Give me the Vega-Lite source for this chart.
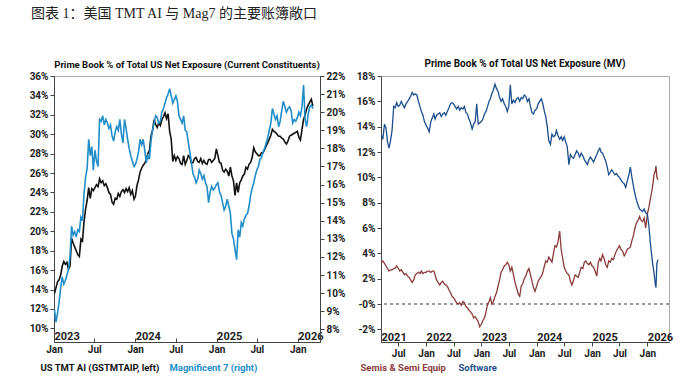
{
"$schema": "https://vega.github.io/schema/vega-lite/v6.json",
"padding": {"left": 28, "top": 6, "right": 5, "bottom": 2},
"title": {"text": "图表 1：美国 TMT AI 与 Mag7 的主要账簿敞口", "anchor": "start", "font": "Liberation Serif, Noto Sans CJK SC", "fontSize": 14, "fontWeight": "normal", "color": "#222", "offset": 38, "dx": -23},
"config": {
  "view": {"stroke": "#aaa", "strokeWidth": 1},
  "axis": {"labelFont": "Liberation Sans Narrow, Roboto", "labelFontWeight": "bold", "labelFontSize": 10, "labelColor": "#222", "domainColor": "#444", "tickColor": "#444", "grid": false, "title": null, "tickSize": 4, "labelOverlap": false, "labelFlush": false},
  "title": {"font": "Liberation Sans Narrow, Roboto", "fontSize": 10, "fontWeight": "bold", "color": "#111", "offset": 2, "frame": "group"}
},
"datasets": {
"L": [
{"d":"2023-01-03","a":13.6,"m":9.1},{"d":"2023-01-10","a":14.2,"m":8.4},{"d":"2023-01-17","a":14.8,"m":8.9},{"d":"2023-01-24","a":15.0,"m":9.5},{"d":"2023-01-31","a":15.5,"m":10.3},
{"d":"2023-02-07","a":16.4,"m":10.9},{"d":"2023-02-14","a":16.9,"m":10.5},{"d":"2023-02-21","a":16.6,"m":10.7},{"d":"2023-02-28","a":16.8,"m":11.0},
{"d":"2023-03-07","a":16.1,"m":11.3},{"d":"2023-03-14","a":16.4,"m":12.0},{"d":"2023-03-21","a":19.3,"m":13.7},{"d":"2023-03-28","a":18.8,"m":13.2},
{"d":"2023-04-04","a":18.4,"m":13.4},{"d":"2023-04-11","a":18.0,"m":13.1},{"d":"2023-04-18","a":17.6,"m":13.5},{"d":"2023-04-25","a":17.4,"m":13.4},
{"d":"2023-05-02","a":19.2,"m":14.2},{"d":"2023-05-09","a":19.0,"m":14.0},{"d":"2023-05-16","a":21.0,"m":15.5},{"d":"2023-05-23","a":22.3,"m":16.4},{"d":"2023-05-30","a":23.2,"m":16.9},
{"d":"2023-06-06","a":24.5,"m":18.5},{"d":"2023-06-13","a":23.4,"m":17.6},{"d":"2023-06-20","a":24.4,"m":18.1},{"d":"2023-06-27","a":24.2,"m":16.8},
{"d":"2023-07-04","a":24.5,"m":17.9},{"d":"2023-07-11","a":24.8,"m":17.3},{"d":"2023-07-18","a":24.6,"m":17.0},{"d":"2023-07-25","a":25.4,"m":19.6},
{"d":"2023-08-01","a":25.0,"m":19.5},{"d":"2023-08-08","a":25.2,"m":19.8},{"d":"2023-08-15","a":24.7,"m":19.3},{"d":"2023-08-22","a":24.9,"m":19.6},{"d":"2023-08-29","a":24.5,"m":19.4},
{"d":"2023-09-05","a":24.0,"m":19.1},{"d":"2023-09-12","a":23.8,"m":19.3},{"d":"2023-09-19","a":23.0,"m":18.7},{"d":"2023-09-26","a":22.8,"m":18.4},
{"d":"2023-10-03","a":23.4,"m":18.9},{"d":"2023-10-10","a":23.3,"m":19.2},{"d":"2023-10-17","a":23.9,"m":19.0},{"d":"2023-10-24","a":23.6,"m":19.6},{"d":"2023-10-31","a":24.1,"m":18.8},
{"d":"2023-11-07","a":24.3,"m":18.3},{"d":"2023-11-14","a":24.0,"m":19.6},{"d":"2023-11-21","a":24.4,"m":19.1},{"d":"2023-11-28","a":24.1,"m":18.5},
{"d":"2023-12-05","a":24.5,"m":18.0},{"d":"2023-12-12","a":23.8,"m":17.6},{"d":"2023-12-19","a":24.2,"m":17.3},{"d":"2023-12-27","a":23.3,"m":17.0},
{"d":"2024-01-02","a":23.6,"m":17.1},{"d":"2024-01-09","a":24.7,"m":17.4},{"d":"2024-01-16","a":25.3,"m":17.8},{"d":"2024-01-23","a":26.1,"m":18.5},{"d":"2024-01-30","a":26.5,"m":18.2},
{"d":"2024-02-06","a":26.8,"m":18.5},{"d":"2024-02-13","a":27.0,"m":17.9},{"d":"2024-02-20","a":27.4,"m":17.2},{"d":"2024-02-27","a":28.0,"m":17.6},
{"d":"2024-03-05","a":28.3,"m":17.4},{"d":"2024-03-12","a":29.8,"m":18.4},{"d":"2024-03-19","a":30.4,"m":19.0},{"d":"2024-03-26","a":31.5,"m":19.4},
{"d":"2024-04-02","a":31.0,"m":19.8},{"d":"2024-04-09","a":30.7,"m":19.7},{"d":"2024-04-16","a":31.2,"m":19.4},{"d":"2024-04-23","a":30.9,"m":19.5},{"d":"2024-04-30","a":31.5,"m":20.0},
{"d":"2024-05-07","a":31.8,"m":20.2},{"d":"2024-05-14","a":32.2,"m":20.5},{"d":"2024-05-21","a":31.6,"m":20.8},{"d":"2024-05-28","a":32.1,"m":21.0},
{"d":"2024-06-04","a":30.3,"m":21.3},{"d":"2024-06-11","a":29.5,"m":20.9},{"d":"2024-06-18","a":27.2,"m":20.5},{"d":"2024-06-25","a":27.8,"m":20.7},
{"d":"2024-07-02","a":27.3,"m":20.9},{"d":"2024-07-09","a":27.7,"m":20.6},{"d":"2024-07-16","a":27.5,"m":19.8},{"d":"2024-07-23","a":27.0,"m":19.6},{"d":"2024-07-30","a":26.9,"m":19.4},
{"d":"2024-08-06","a":27.8,"m":19.8},{"d":"2024-08-13","a":26.9,"m":19.0},{"d":"2024-08-20","a":27.3,"m":18.9},{"d":"2024-08-27","a":27.8,"m":18.3},
{"d":"2024-09-03","a":27.6,"m":17.8},{"d":"2024-09-10","a":27.0,"m":17.2},{"d":"2024-09-17","a":27.1,"m":16.6},{"d":"2024-09-24","a":27.5,"m":16.4},
{"d":"2024-10-01","a":27.6,"m":16.1},{"d":"2024-10-08","a":27.2,"m":16.3},{"d":"2024-10-15","a":27.1,"m":16.8},{"d":"2024-10-22","a":27.5,"m":16.6},{"d":"2024-10-29","a":27.0,"m":16.3},
{"d":"2024-11-05","a":27.3,"m":16.5},{"d":"2024-11-12","a":27.0,"m":16.1},{"d":"2024-11-19","a":26.9,"m":15.9},{"d":"2024-11-26","a":27.4,"m":15.0},
{"d":"2024-12-03","a":27.4,"m":15.6},{"d":"2024-12-10","a":27.1,"m":15.9},{"d":"2024-12-17","a":27.3,"m":15.7},{"d":"2024-12-24","a":27.5,"m":15.8},{"d":"2024-12-31","a":28.5,"m":16.0},
{"d":"2025-01-07","a":27.8,"m":16.1},{"d":"2025-01-14","a":27.1,"m":15.6},{"d":"2025-01-21","a":27.0,"m":15.4},{"d":"2025-01-28","a":26.3,"m":15.0},
{"d":"2025-02-04","a":26.1,"m":14.6},{"d":"2025-02-11","a":26.4,"m":14.8},{"d":"2025-02-18","a":26.2,"m":15.2},{"d":"2025-02-25","a":25.7,"m":14.8},
{"d":"2025-03-04","a":26.6,"m":14.4},{"d":"2025-03-11","a":25.7,"m":13.3},{"d":"2025-03-18","a":25.2,"m":13.0},{"d":"2025-03-25","a":23.7,"m":12.4},
{"d":"2025-04-01","a":25.0,"m":11.85},{"d":"2025-04-08","a":24.0,"m":13.5},{"d":"2025-04-15","a":25.0,"m":13.1},{"d":"2025-04-22","a":25.3,"m":13.9},{"d":"2025-04-29","a":25.7,"m":13.7},
{"d":"2025-05-06","a":25.9,"m":14.1},{"d":"2025-05-13","a":26.6,"m":14.3},{"d":"2025-05-20","a":26.4,"m":14.4},{"d":"2025-05-27","a":26.9,"m":14.8},
{"d":"2025-06-03","a":27.1,"m":15.4},{"d":"2025-06-10","a":27.6,"m":15.8},{"d":"2025-06-17","a":28.6,"m":16.1},{"d":"2025-06-24","a":28.2,"m":16.5},
{"d":"2025-07-01","a":28.0,"m":16.8},{"d":"2025-07-08","a":27.8,"m":17.0},{"d":"2025-07-15","a":27.8,"m":17.4},{"d":"2025-07-22","a":28.1,"m":17.5},{"d":"2025-07-29","a":28.1,"m":17.8},
{"d":"2025-08-05","a":28.4,"m":18.0},{"d":"2025-08-12","a":28.8,"m":18.3},{"d":"2025-08-19","a":29.1,"m":18.6},{"d":"2025-08-26","a":29.5,"m":19.0},
{"d":"2025-09-02","a":29.9,"m":19.4},{"d":"2025-09-09","a":30.5,"m":20.2},{"d":"2025-09-16","a":30.3,"m":19.9},{"d":"2025-09-23","a":30.2,"m":19.6},{"d":"2025-09-30","a":30.0,"m":19.8},
{"d":"2025-10-07","a":29.8,"m":19.2},{"d":"2025-10-14","a":29.8,"m":19.5},{"d":"2025-10-21","a":29.6,"m":20.1},{"d":"2025-10-28","a":29.5,"m":20.6},
{"d":"2025-11-04","a":29.2,"m":20.3},{"d":"2025-11-11","a":29.0,"m":20.0},{"d":"2025-11-18","a":29.3,"m":20.2},{"d":"2025-11-25","a":29.8,"m":20.3},
{"d":"2025-12-02","a":29.9,"m":20.1},{"d":"2025-12-09","a":30.0,"m":19.4},{"d":"2025-12-16","a":30.1,"m":19.6},{"d":"2025-12-23","a":30.2,"m":19.5},{"d":"2025-12-30","a":30.3,"m":19.7},
{"d":"2026-01-06","a":29.7,"m":20.0},{"d":"2026-01-13","a":29.4,"m":19.8},{"d":"2026-01-20","a":30.5,"m":20.3},{"d":"2026-01-27","a":31.5,"m":21.5},
{"d":"2026-02-03","a":32.0,"m":19.6},{"d":"2026-02-10","a":32.6,"m":19.2},{"d":"2026-02-17","a":33.0,"m":19.9},{"d":"2026-02-24","a":33.3,"m":20.3},
{"d":"2026-03-03","a":33.6,"m":20.4},{"d":"2026-03-10","a":32.9,"m":20.2}
],
"R": [
{"d":"2021-03-09","s":13.4,"e":3.25},{"d":"2021-03-21","s":13.0,"e":3.4},
{"d":"2021-04-01","s":14.2,"e":3.2},{"d":"2021-04-11","s":13.9,"e":3.0},{"d":"2021-04-21","s":12.8,"e":2.8},
{"d":"2021-05-01","s":12.3,"e":2.6},{"d":"2021-05-11","s":12.9,"e":2.7},{"d":"2021-05-21","s":13.7,"e":2.7},
{"d":"2021-06-01","s":15.6,"e":2.8},{"d":"2021-06-11","s":15.5,"e":2.85},{"d":"2021-06-21","s":15.9,"e":3.0},
{"d":"2021-07-01","s":15.6,"e":2.8},{"d":"2021-07-11","s":15.7,"e":2.6},{"d":"2021-07-21","s":16.0,"e":2.7},
{"d":"2021-08-01","s":15.7,"e":2.5},{"d":"2021-08-11","s":15.5,"e":2.3},{"d":"2021-08-21","s":15.8,"e":2.4},
{"d":"2021-09-01","s":16.0,"e":2.2},{"d":"2021-09-11","s":16.2,"e":2.1},{"d":"2021-09-21","s":16.4,"e":1.9},
{"d":"2021-10-01","s":16.7,"e":1.7},{"d":"2021-10-11","s":16.5,"e":1.9},{"d":"2021-10-21","s":16.6,"e":2.3},
{"d":"2021-11-01","s":16.5,"e":2.4},{"d":"2021-11-11","s":16.0,"e":2.5},{"d":"2021-11-21","s":15.6,"e":2.4},
{"d":"2021-12-01","s":15.2,"e":2.6},{"d":"2021-12-11","s":14.9,"e":2.4},{"d":"2021-12-21","s":14.4,"e":2.5},
{"d":"2022-01-01","s":14.1,"e":2.5},{"d":"2022-01-11","s":13.9,"e":2.6},{"d":"2022-01-21","s":13.6,"e":2.6},
{"d":"2022-02-01","s":14.4,"e":2.5},{"d":"2022-02-11","s":14.7,"e":2.6},{"d":"2022-02-21","s":15.0,"e":2.6},
{"d":"2022-03-01","s":14.6,"e":2.3},{"d":"2022-03-11","s":14.9,"e":1.9},{"d":"2022-03-21","s":15.0,"e":1.7},
{"d":"2022-04-01","s":15.1,"e":1.5},{"d":"2022-04-11","s":14.8,"e":1.7},{"d":"2022-04-21","s":15.0,"e":1.8},
{"d":"2022-05-01","s":15.1,"e":1.6},{"d":"2022-05-11","s":14.9,"e":1.5},{"d":"2022-05-21","s":15.2,"e":1.4},
{"d":"2022-06-01","s":15.5,"e":1.1},{"d":"2022-06-11","s":15.8,"e":0.9},{"d":"2022-06-21","s":15.9,"e":0.6},
{"d":"2022-07-01","s":15.8,"e":0.5},{"d":"2022-07-11","s":15.6,"e":0.3},{"d":"2022-07-21","s":15.4,"e":0.1},
{"d":"2022-08-01","s":15.6,"e":0.0},{"d":"2022-08-11","s":15.3,"e":0.1},{"d":"2022-08-21","s":15.5,"e":-0.1},
{"d":"2022-09-01","s":15.4,"e":0.2},{"d":"2022-09-11","s":15.6,"e":0.1},{"d":"2022-09-21","s":15.1,"e":-0.2},
{"d":"2022-10-01","s":15.0,"e":-0.3},{"d":"2022-10-11","s":14.6,"e":-0.5},{"d":"2022-10-21","s":14.3,"e":-0.6},
{"d":"2022-11-01","s":13.8,"e":-0.8},{"d":"2022-11-11","s":14.2,"e":-1.1},{"d":"2022-11-21","s":14.4,"e":-1.0},
{"d":"2022-12-01","s":15.8,"e":-1.2},{"d":"2022-12-11","s":14.2,"e":-1.4},{"d":"2022-12-21","s":14.3,"e":-1.8},
{"d":"2023-01-01","s":14.4,"e":-1.6},{"d":"2023-01-11","s":14.6,"e":-1.3},{"d":"2023-01-21","s":15.0,"e":-1.1},
{"d":"2023-02-01","s":15.2,"e":-0.6},{"d":"2023-02-11","s":15.6,"e":0.0},{"d":"2023-02-21","s":16.0,"e":0.2},
{"d":"2023-03-01","s":16.2,"e":0.5},{"d":"2023-03-11","s":16.6,"e":0.0},{"d":"2023-03-21","s":16.9,"e":0.2},
{"d":"2023-04-01","s":17.35,"e":0.6},{"d":"2023-04-11","s":17.0,"e":0.9},{"d":"2023-04-21","s":16.8,"e":1.4},
{"d":"2023-05-01","s":16.3,"e":1.9},{"d":"2023-05-11","s":16.0,"e":2.5},{"d":"2023-05-21","s":16.2,"e":2.7},
{"d":"2023-06-01","s":15.8,"e":3.0},{"d":"2023-06-11","s":15.6,"e":3.1},{"d":"2023-06-21","s":15.2,"e":3.3},
{"d":"2023-07-01","s":15.6,"e":3.1},{"d":"2023-07-11","s":17.3,"e":2.6},{"d":"2023-07-21","s":15.8,"e":2.9},
{"d":"2023-08-01","s":16.1,"e":2.3},{"d":"2023-08-11","s":15.9,"e":1.7},{"d":"2023-08-21","s":16.2,"e":1.3},
{"d":"2023-09-01","s":16.3,"e":0.8},{"d":"2023-09-11","s":16.0,"e":0.6},{"d":"2023-09-21","s":16.3,"e":1.4},
{"d":"2023-10-01","s":16.2,"e":1.6},{"d":"2023-10-11","s":16.5,"e":2.0},{"d":"2023-10-21","s":16.4,"e":2.2},
{"d":"2023-11-01","s":16.0,"e":2.6},{"d":"2023-11-11","s":16.2,"e":2.8},{"d":"2023-11-21","s":15.6,"e":2.3},
{"d":"2023-12-01","s":15.1,"e":1.8},{"d":"2023-12-11","s":15.0,"e":1.3},{"d":"2023-12-21","s":15.3,"e":1.0},
{"d":"2024-01-01","s":15.4,"e":1.4},{"d":"2024-01-11","s":15.8,"e":1.8},{"d":"2024-01-21","s":16.0,"e":2.0},
{"d":"2024-02-01","s":16.2,"e":2.2},{"d":"2024-02-11","s":15.8,"e":2.5},{"d":"2024-02-21","s":15.2,"e":3.0},
{"d":"2024-03-01","s":14.8,"e":3.4},{"d":"2024-03-11","s":14.0,"e":3.3},{"d":"2024-03-21","s":12.9,"e":3.7},
{"d":"2024-04-01","s":12.6,"e":3.5},{"d":"2024-04-11","s":13.4,"e":3.3},{"d":"2024-04-21","s":13.2,"e":4.0},
{"d":"2024-05-01","s":13.3,"e":4.6},{"d":"2024-05-11","s":13.7,"e":4.5},{"d":"2024-05-21","s":13.3,"e":4.9},
{"d":"2024-06-01","s":13.0,"e":5.75},{"d":"2024-06-11","s":13.2,"e":4.3},{"d":"2024-06-21","s":12.9,"e":3.6},
{"d":"2024-07-01","s":13.2,"e":2.9},{"d":"2024-07-11","s":12.8,"e":2.6},{"d":"2024-07-21","s":12.4,"e":2.4},
{"d":"2024-08-01","s":11.0,"e":2.3},{"d":"2024-08-11","s":11.8,"e":1.8},{"d":"2024-08-21","s":11.6,"e":1.5},
{"d":"2024-09-01","s":11.5,"e":1.9},{"d":"2024-09-11","s":11.8,"e":2.3},{"d":"2024-09-21","s":12.1,"e":2.2},
{"d":"2024-10-01","s":11.9,"e":2.1},{"d":"2024-10-11","s":11.6,"e":2.5},{"d":"2024-10-21","s":11.9,"e":2.9},
{"d":"2024-11-01","s":11.7,"e":2.8},{"d":"2024-11-11","s":11.4,"e":3.3},{"d":"2024-11-21","s":11.2,"e":3.4},
{"d":"2024-12-01","s":11.0,"e":3.2},{"d":"2024-12-11","s":11.4,"e":3.1},{"d":"2024-12-21","s":11.6,"e":3.3},
{"d":"2025-01-01","s":11.4,"e":3.0},{"d":"2025-01-11","s":11.2,"e":2.9},{"d":"2025-01-21","s":11.5,"e":2.6},
{"d":"2025-02-01","s":11.8,"e":2.2},{"d":"2025-02-11","s":12.1,"e":3.3},{"d":"2025-02-21","s":12.3,"e":3.6},
{"d":"2025-03-01","s":12.0,"e":3.4},{"d":"2025-03-11","s":11.9,"e":3.9},{"d":"2025-03-21","s":11.6,"e":3.6},
{"d":"2025-04-01","s":11.3,"e":3.1},{"d":"2025-04-11","s":10.8,"e":2.9},{"d":"2025-04-21","s":10.2,"e":3.4},
{"d":"2025-05-01","s":10.4,"e":3.3},{"d":"2025-05-11","s":10.6,"e":3.6},{"d":"2025-05-21","s":10.4,"e":3.5},
{"d":"2025-06-01","s":10.2,"e":3.9},{"d":"2025-06-11","s":10.3,"e":4.2},{"d":"2025-06-21","s":10.1,"e":4.4},
{"d":"2025-07-01","s":10.0,"e":4.6},{"d":"2025-07-11","s":9.8,"e":4.3},{"d":"2025-07-21","s":9.6,"e":4.2},
{"d":"2025-08-01","s":9.5,"e":3.8},{"d":"2025-08-11","s":9.2,"e":4.0},{"d":"2025-08-21","s":9.7,"e":4.3},
{"d":"2025-09-01","s":10.2,"e":4.4},{"d":"2025-09-11","s":10.8,"e":4.5},{"d":"2025-09-21","s":10.0,"e":5.0},
{"d":"2025-10-01","s":9.3,"e":5.4},{"d":"2025-10-11","s":8.7,"e":6.0},{"d":"2025-10-21","s":8.2,"e":6.4},
{"d":"2025-11-01","s":7.8,"e":6.6},{"d":"2025-11-11","s":7.5,"e":6.9},{"d":"2025-11-21","s":7.4,"e":6.6},
{"d":"2025-12-01","s":7.3,"e":6.5},{"d":"2025-12-11","s":7.5,"e":6.8},{"d":"2025-12-21","s":7.2,"e":6.0},
{"d":"2026-01-01","s":7.1,"e":7.1},{"d":"2026-01-11","s":6.2,"e":7.6},{"d":"2026-01-21","s":4.8,"e":8.3},
{"d":"2026-02-01","s":3.6,"e":9.0},{"d":"2026-02-07","s":3.0,"e":9.5},{"d":"2026-02-14","s":2.5,"e":10.2},{"d":"2026-02-22","s":1.6,"e":10.5},{"d":"2026-02-27","s":1.3,"e":10.9},
{"d":"2026-03-05","s":3.2,"e":10.0},{"d":"2026-03-12","s":3.5,"e":9.8}
]
},
"resolve": {"scale": {"color": "independent"}, "legend": {"color": "independent"}},
"spacing": 4,
"hconcat": [
{
  "title": {"text": "Prime Book % of Total US Net Exposure (Current Constituents)", "fontSize": 9.5},
  "width": 266, "height": 266,
  "data": {"name": "L"},
  "layer": [
    {"mark": {"type": "line", "strokeWidth": 1.6, "clip": true},
     "encoding": {
       "x": {"field": "d", "type": "temporal", "scale": {"type": "utc", "domain": [{"year": 2023, "month": 1, "date": 1, "utc": true}, {"year": 2026, "month": 4, "date": 11, "utc": true}]},
             "axis": {"orient": "bottom", "values": [{"year": 2023, "month": 1, "date": 1, "utc": true}, {"year": 2023, "month": 7, "date": 1, "utc": true}, {"year": 2024, "month": 1, "date": 1, "utc": true}, {"year": 2024, "month": 7, "date": 1, "utc": true}, {"year": 2025, "month": 1, "date": 1, "utc": true}, {"year": 2025, "month": 7, "date": 1, "utc": true}, {"year": 2026, "month": 1, "date": 1, "utc": true}],
                      "labelExpr": "utcmonth(datum.value) == 0 ? 'Jan' : 'Jul'", "tickSize": -4, "labelPadding": 6}},
       "y": {"field": "a", "type": "quantitative", "scale": {"domain": [8.6, 36], "nice": false, "zero": false},
             "axis": {"orient": "left", "values": [10, 12, 14, 16, 18, 20, 22, 24, 26, 28, 30, 32, 34, 36], "labelExpr": "datum.value + '%'"}},
       "color": {"datum": "US TMT AI (GSTMTAIP, left)", "type": "nominal",
                 "scale": {"domain": ["US TMT AI (GSTMTAIP, left)", "Magnificent 7 (right)"], "range": ["#111111", "#218ec9"]},
                 "legend": {"orient": "none", "legendX": -23, "legendY": 287, "direction": "horizontal", "title": null, "symbolSize": 0, "symbolStrokeWidth": 0, "symbolOpacity": 0, "labelOffset": 0, "columnPadding": 0, "labelFont": "Liberation Sans Narrow, Roboto", "labelFontWeight": "bold", "labelFontSize": 9.5,
                            "encode": {"labels": {"update": {"fill": {"signal": "datum.value === 'Magnificent 7 (right)' ? '#218ec9' : '#111111'"}}}}}}
     }},
    {"mark": {"type": "line", "strokeWidth": 1.6, "clip": true},
     "encoding": {
       "x": {"field": "d", "type": "temporal",
             "axis": {"orient": "bottom", "values": [{"year": 2023, "month": 1, "date": 1, "utc": true}, {"year": 2024, "month": 1, "date": 1, "utc": true}, {"year": 2025, "month": 1, "date": 1, "utc": true}, {"year": 2026, "month": 1, "date": 1, "utc": true}],
                      "labelExpr": "'' + utcyear(datum.value)", "ticks": false, "tickSize": 0, "domain": false, "labelAlign": "left", "labelBaseline": "alphabetic", "labelPadding": -3, "labelFontSize": 11}},
       "y": {"field": "m", "type": "quantitative", "scale": {"domain": [7.3, 22], "nice": false, "zero": false},
             "axis": {"orient": "right", "values": [8, 9, 10, 11, 12, 13, 14, 15, 16, 17, 18, 19, 20, 21, 22], "labelExpr": "datum.value + '%'"}},
       "color": {"datum": "Magnificent 7 (right)", "type": "nominal"}
     }}
  ],
  "resolve": {"scale": {"y": "independent"}, "axis": {"x": "independent", "y": "independent"}}
},
{
  "title": {"text": "Prime Book % of Total US Net Exposure (MV)"},
  "width": 288, "height": 266,
  "data": {"name": "R"},
  "layer": [
    {"mark": {"type": "rule", "strokeDash": [3, 3], "color": "#999", "strokeWidth": 1},
     "encoding": {"y": {"datum": 0, "type": "quantitative", "axis": null}}},
    {"mark": {"type": "line", "strokeWidth": 1.3, "clip": true},
     "encoding": {
       "x": {"field": "d", "type": "temporal", "scale": {"type": "utc", "domain": [{"year": 2021, "month": 3, "date": 9, "utc": true}, {"year": 2026, "month": 5, "date": 24, "utc": true}]},
             "axis": {"orient": "bottom", "values": [{"year": 2021, "month": 7, "date": 1, "utc": true}, {"year": 2022, "month": 1, "date": 1, "utc": true}, {"year": 2022, "month": 7, "date": 1, "utc": true}, {"year": 2023, "month": 1, "date": 1, "utc": true}, {"year": 2023, "month": 7, "date": 1, "utc": true}, {"year": 2024, "month": 1, "date": 1, "utc": true}, {"year": 2024, "month": 7, "date": 1, "utc": true}, {"year": 2025, "month": 1, "date": 1, "utc": true}, {"year": 2025, "month": 7, "date": 1, "utc": true}, {"year": 2026, "month": 1, "date": 1, "utc": true}],
                      "labelExpr": "utcmonth(datum.value) == 0 ? 'Jan' : 'Jul'", "labelPadding": 2}},
       "y": {"field": "e", "type": "quantitative", "scale": {"domain": [-3, 18], "nice": false, "zero": false},
             "axis": {"orient": "left", "values": [-2, 0, 2, 4, 6, 8, 10, 12, 14, 16, 18], "labelExpr": "datum.value == 0 ? '-0%' : datum.value + '%'"}},
       "color": {"datum": "Semis & Semi Equip", "type": "nominal",
                 "scale": {"domain": ["Semis & Semi Equip", "Software"], "range": ["#8c3b3b", "#1c4e8e"]},
                 "legend": {"orient": "none", "legendX": -30, "legendY": 287, "direction": "horizontal", "title": null, "symbolSize": 0, "symbolStrokeWidth": 0, "symbolOpacity": 0, "labelOffset": 0, "columnPadding": 3, "labelFont": "Liberation Sans Narrow, Roboto", "labelFontWeight": "bold", "labelFontSize": 9.5,
                            "encode": {"labels": {"update": {"fill": {"signal": "datum.value === 'Software' ? '#1c4e8e' : '#8c3b3b'"}}}}}}
     }},
    {"mark": {"type": "line", "strokeWidth": 1.3, "clip": true},
     "encoding": {
       "x": {"field": "d", "type": "temporal",
             "axis": {"orient": "bottom", "values": [{"year": 2021, "month": 3, "date": 9, "utc": true}, {"year": 2022, "month": 1, "date": 1, "utc": true}, {"year": 2023, "month": 1, "date": 1, "utc": true}, {"year": 2024, "month": 1, "date": 1, "utc": true}, {"year": 2025, "month": 1, "date": 1, "utc": true}, {"year": 2026, "month": 1, "date": 1, "utc": true}],
                      "labelExpr": "'' + utcyear(datum.value)", "ticks": false, "tickSize": 0, "domain": false, "labelAlign": "left", "labelBaseline": "alphabetic", "labelPadding": -2, "labelFontSize": 11}},
       "y": {"field": "s", "type": "quantitative", "axis": null},
       "color": {"datum": "Software", "type": "nominal"}
     }}
  ],
  "resolve": {"axis": {"x": "independent", "y": "independent"}}
}
]
}
